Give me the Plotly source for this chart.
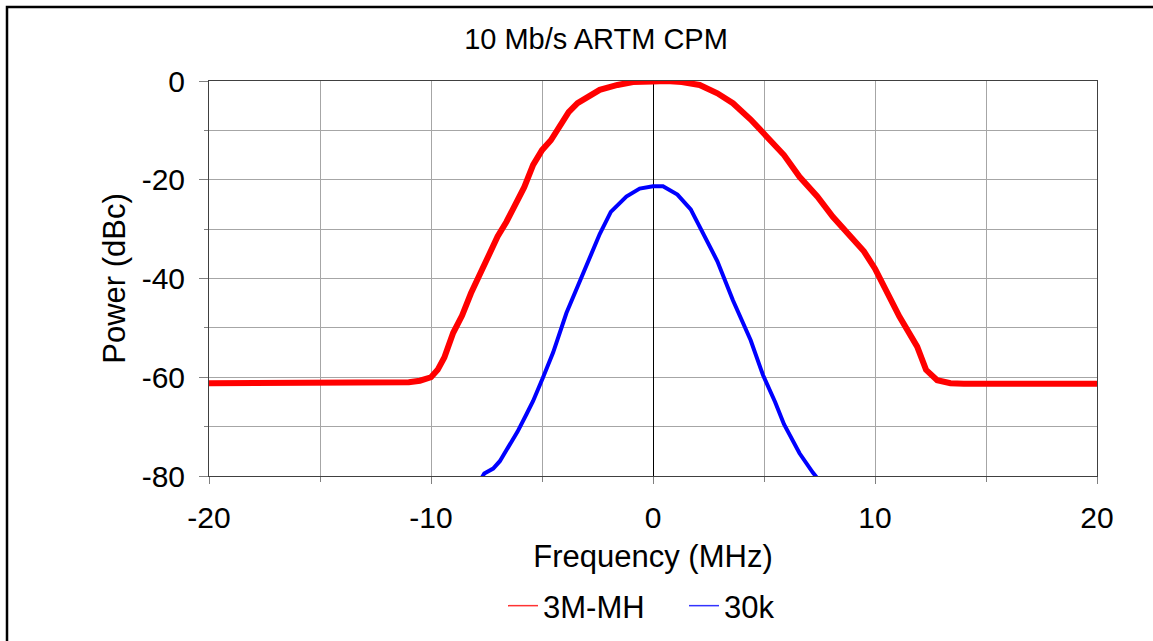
import plotly.graph_objects as go

# ---- data ----
red_name = "3M-MH"
red_freq = [-20, -18, -16, -14, -12, -11, -10.5, -10, -9.7, -9.4, -9.0, -8.6, -8.2, -7.8,
            -7.4, -7.0, -6.6, -6.2, -5.8, -5.4, -5.0, -4.6, -4.2, -3.8, -3.4, -3.0, -2.4,
            -1.6, -0.9, 0, 0.6, 1.3, 2.1, 2.9, 3.6, 4.4, 5.1, 5.9, 6.6, 7.4, 8.1, 8.9,
            9.5, 10.0, 10.4, 11.1, 11.9, 12.3, 12.8, 13.4, 14, 16, 18, 20]
red_power = [-61.2, -61.2, -61.3, -61.2, -61.1, -61.0, -60.7, -60.0, -58.5, -56.0, -51.0,
             -47.5, -43.0, -39.0, -35.5, -31.5, -28.5, -25.0, -21.5, -17.0, -14.0, -12.0,
             -9.0, -6.3, -4.5, -3.5, -1.8, -0.8, -0.2, -0.1, 0.0, -0.2, -0.8, -2.5, -4.5,
             -7.8, -11.0, -15.0, -19.4, -23.4, -27.5, -31.5, -34.5, -38.0, -41.5, -47.7,
             -53.8, -58.5, -60.6, -61.2, -61.3, -61.3, -61.3, -61.3]

blue_name = "30k"
blue_freq = [-7.8, -7.6, -7.2, -6.9, -6.5, -6.1, -5.7, -5.4, -4.95, -4.5, -3.9, -3.15, -2.8,
             -2.4, -1.9, -1.2, -0.6, 0, 0.45, 1.1, 1.7, 2.1, 2.6, 2.9, 3.6, 4.4, 4.95, 5.5,
             5.9, 6.6, 7.2, 7.5]
blue_power = [-81.0, -79.5, -78.5, -77.0, -74.0, -71.0, -67.5, -64.8, -60.0, -55.0, -47.0,
              -39.0, -35.0, -31.0, -26.5, -23.4, -21.8, -21.3, -21.3, -23.0, -26.0, -29.5,
              -33.6, -36.5, -44.4, -52.5, -59.5, -65.0, -69.5, -75.4, -79.3, -81.0]

x_ticks = [-20, -10, 0, 10, 20]
x_tick_labels = ["-20", "-10", "0", "10", "20"]
y_ticks = [0, -20, -40, -60, -80]
y_tick_labels = ["0", "-20", "-40", "-60", "-80"]

title_text = "10 Mb/s ARTM CPM"
x_title = "Frequency (MHz)"
y_title = "Power (dBc)"

FONT = "Liberation Sans, Arial, sans-serif"

fig = go.Figure()
fig.add_trace(go.Scatter(x=red_freq, y=red_power, mode="lines", name=red_name,
                         legendgroup="r", showlegend=False,
                         line=dict(color="#ff0000", width=6)))
fig.add_trace(go.Scatter(x=blue_freq, y=blue_power, mode="lines", name=blue_name,
                         legendgroup="b", showlegend=False,
                         line=dict(color="#0000ff", width=4)))
# legend entries (thin sample lines as in the reference)
fig.add_trace(go.Scatter(x=[None], y=[None], mode="lines", name=red_name, legendgroup="r",
                         line=dict(color="#ff3333", width=1.5)))
fig.add_trace(go.Scatter(x=[None], y=[None], mode="lines", name=blue_name, legendgroup="b",
                         line=dict(color="#3333ff", width=1.5)))

W, H = 1153, 641
L, R, T, B = 209, 56, 81, 165
pw, ph = W - L - R, H - T - B

def px_x(p):
    return (p - L) / pw

def px_y(p):
    return (H - B - p) / ph

fig.update_layout(
    width=W, height=H,
    margin=dict(l=L, r=R, t=T, b=B, pad=0, autoexpand=False),
    paper_bgcolor="white", plot_bgcolor="white",
    font=dict(family=FONT, size=30, color="black"),
    title=dict(text=title_text, font=dict(size=29, color="black"),
               xref="paper", x=px_x(596), xanchor="center",
               yref="container", y=1 - 39 / H, yanchor="middle"),
    showlegend=True,
    legend=dict(orientation="h", x=px_x(503), xanchor="left",
                y=px_y(606), yanchor="middle", font=dict(size=31),
                bgcolor="rgba(0,0,0,0)", entrywidth=136, entrywidthmode="pixels",
                tracegroupgap=0),
    shapes=[dict(type="rect", xref="paper", yref="paper",
                 x0=px_x(7), x1=px_x(1190), y0=px_y(660), y1=px_y(7),
                 line=dict(color="black", width=2.5), fillcolor="rgba(0,0,0,0)",
                 layer="above")],
)

fig.update_xaxes(
    range=[-20, 20], tickvals=x_ticks, ticktext=x_tick_labels, autorange=False,
    showgrid=True, gridcolor="#a6a6a6", gridwidth=1,
    minor=dict(dtick=5, tick0=0, showgrid=True, gridcolor="#a6a6a6", gridwidth=1,
               ticks="outside", ticklen=5, tickcolor="#808080"),
    ticks="outside", ticklen=7, tickcolor="#808080", tickwidth=1,
    showline=True, linecolor="#404040", linewidth=1, mirror=True,
    zeroline=True, zerolinecolor="black", zerolinewidth=1,
    tickfont=dict(size=30), ticklabelstandoff=8,
    title=dict(text=x_title, font=dict(size=31), standoff=12),
    automargin=False,
)
fig.update_yaxes(
    range=[-80, 0], tickvals=y_ticks, ticktext=y_tick_labels, autorange=False,
    showgrid=True, gridcolor="#a6a6a6", gridwidth=1,
    minor=dict(dtick=10, tick0=0, showgrid=True, gridcolor="#a6a6a6", gridwidth=1,
               ticks="outside", ticklen=4, tickcolor="#808080"),
    ticks="outside", ticklen=9, tickcolor="#808080", tickwidth=1,
    showline=True, linecolor="#404040", linewidth=1, mirror=True,
    zeroline=False,
    tickfont=dict(size=30), ticklabelstandoff=8,
    title=dict(text=y_title, font=dict(size=31), standoff=6),
    automargin=False,
)

fig.write_html("out.html", config={"displayModeBar": False},
               post_script="document.body.style.margin='0';")
